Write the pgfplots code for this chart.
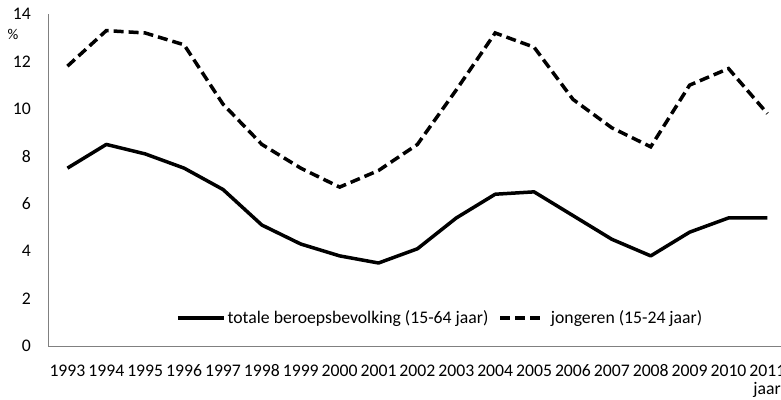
\documentclass[border=0pt]{standalone}
\usepackage{fontspec}
\setmainfont{Carlito}
\usepackage{pgfplots}
\usepackage{pgfplotstable}
\pgfplotsset{compat=1.18}
\pgfplotsset{shortleg/.style={legend image code/.code={\draw[##1] (0bp,0bp) -- (40bp,0bp);}}}
\pgfplotstableread{
x year totaal jong
0 1993 7.5 11.8
1 1994 8.5 13.3
2 1995 8.1 13.2
3 1996 7.5 12.7
4 1997 6.6 10.2
5 1998 5.1 8.5
6 1999 4.3 7.5
7 2000 3.8 6.7
8 2001 3.5 7.4
9 2002 4.1 8.5
10 2003 5.4 10.8
11 2004 6.4 13.2
12 2005 6.5 12.6
13 2006 5.5 10.4
14 2007 4.5 9.2
15 2008 3.8 8.4
16 2009 4.8 11.0
17 2010 5.4 11.7
18 2011 5.4 9.8
}\datatable
\begin{document}
\fontsize{17.7bp}{20bp}\selectfont
\begin{tikzpicture}
\begin{axis}[
  at={(48bp,54bp)}, anchor=south west,
  scale only axis, width=733bp, height=332bp,
  xmin=-0.5, xmax=18.35, ymin=0, ymax=14,
  xtick={0,...,18},
  xticklabels={1993,1994,1995,1996,1997,1998,1999,2000,2001,2002,2003,2004,2005,2006,2007,2008,2009,2010,2011},
  ytick={0,2,...,14},
  axis x line*=bottom, axis y line*=left,
  axis line style={-, draw=black!50, line width=1bp},
  major tick length=0pt,
  /pgf/number format/assume math mode=true,
  tick label style={font=\fontsize{17.7bp}{20bp}\selectfont, text=black},
  xticklabel style={anchor=base, yshift=-30bp},
  yticklabel style={xshift=-11bp},
  xlabel={jaar},
  xlabel style={at={(rel axis cs:1,0)}, anchor=north east, yshift=-36bp, inner sep=0pt, font=\fontsize{17.7bp}{20bp}\selectfont},
  ylabel={\%},
  ylabel style={rotate=-90, at={(rel axis cs:0,0.937)}, anchor=center, xshift=-35bp, font=\fontsize{15bp}{18bp}\selectfont},
  legend columns=2,
  legend style={at={(rel axis cs:0.535,0.084)}, anchor=center, draw=none, fill=none,
    font=\fontsize{17.7bp}{20bp}\selectfont,
    /tikz/every even column/.append style={column sep=8bp}},
  legend image code/.code={\draw[#1] (0bp,0bp) -- (46bp,0bp);},
  clip=false,
]
\addplot[black, line width=3.5bp, line join=round] table[x=x, y=totaal] {\datatable};
\addlegendentry{totale beroepsbevolking (15-64 jaar)}
\addplot[black, line width=3.5bp, dash pattern=on 10bp off 5bp, shortleg] table[x=x, y=jong] {\datatable};
\addlegendentry{\hspace{7bp}jongeren (15-24 jaar)}
\end{axis}
\pgfresetboundingbox
\useasboundingbox (0,0) rectangle (781bp,400bp);
\end{tikzpicture}
\end{document}
